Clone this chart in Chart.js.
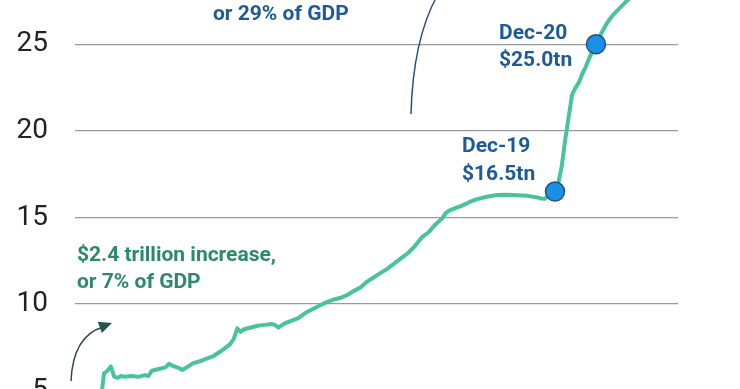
<!DOCTYPE html>
<html>
<head>
<meta charset="utf-8">
<script src="https://cdn.jsdelivr.net/npm/chart.js@4"></script>
<style>
  html, body { margin: 0; padding: 0; background: #fff; overflow: hidden; }
  #wrap { position: relative; width: 740px; height: 389px; overflow: hidden; }
  #chart { position: absolute; left: 0; top: -92px; }
</style>
</head>
<body>
<div id="wrap"><canvas id="chart" width="740" height="620"></canvas></div>
<script>
// Combined central bank assets, $ trillion
const months = [
    '2008-10', '2008-11', '2008-12', '2009-01', '2009-02', '2009-03', '2009-04', '2009-05', '2009-06',
    '2009-08', '2009-10', '2009-12', '2010-01', '2010-02', '2010-04', '2010-06', '2010-07', '2010-08',
    '2010-10', '2010-11', '2011-01', '2011-02', '2011-04', '2011-06', '2011-08', '2011-10', '2011-12',
    '2012-01', '2012-02', '2012-03', '2012-04', '2012-05', '2012-07', '2012-09', '2012-11', '2013-01',
    '2013-02', '2013-03', '2013-05', '2013-07', '2013-09', '2013-11', '2014-01', '2014-03', '2014-05',
    '2014-07', '2014-09', '2014-11', '2015-01', '2015-03', '2015-05', '2015-07', '2015-09', '2015-11',
    '2016-01', '2016-03', '2016-05', '2016-07', '2016-09', '2016-11', '2017-01', '2017-03', '2017-04',
    '2017-05', '2017-07', '2017-09', '2017-11', '2018-01', '2018-04', '2018-07', '2018-10', '2019-01',
    '2019-04', '2019-07', '2019-08', '2019-09', '2019-10', '2019-11', '2019-12', '2020-01', '2020-02',
    '2020-03', '2020-04', '2020-05', '2020-06', '2020-07', '2020-08', '2020-09', '2020-10', '2020-11',
    '2020-12', '2021-01', '2021-02', '2021-03', '2021-04', '2021-05', '2021-06', '2021-07', '2021-08',
    '2021-09', '2021-10', '2021-11', '2021-12',
];
const assetsTn = [
    3.6, 4.3, 6.0, 6.15, 6.4, 5.8, 5.75, 5.85, 5.8,
    5.85, 5.8, 5.9, 5.85, 6.15, 6.25, 6.35, 6.55, 6.45,
    6.3, 6.2, 6.45, 6.58, 6.7, 6.85, 7.0, 7.25, 7.55,
    7.7, 8.0, 8.6, 8.4, 8.55, 8.65, 8.75, 8.8, 8.85,
    8.8, 8.65, 8.9, 9.05, 9.2, 9.5, 9.7, 9.9, 10.1,
    10.25, 10.35, 10.5, 10.75, 10.95, 11.3, 11.55, 11.8, 12.05,
    12.35, 12.65, 12.95, 13.35, 13.85, 14.15, 14.6, 14.95, 15.25,
    15.4, 15.55, 15.7, 15.9, 16.05, 16.2, 16.3, 16.32, 16.28,
    16.25, 16.15, 16.1, 16.08, 16.25, 16.4, 16.5, 17.0, 18.0,
    19.5, 20.8, 22.1, 22.5, 22.8, 23.3, 23.7, 24.2, 24.6,
    25.0, 25.4, 25.8, 26.15, 26.45, 26.7, 26.9, 27.1, 27.3,
    27.5, 27.7, 27.85, 28.0,
];

const markerMonths = ['2019-12', '2020-12'];
const markerValues = [16.5, 25.0];
const markerLabels = [['Dec-19', '$16.5tn'], ['Dec-20', '$25.0tn']];

const yTickValues = [0, 5, 10, 15, 20, 25, 30];

const LINE_GREEN = '#47c49c';
const TEXT_GREEN = '#2c8a6c';
const TEXT_BLUE = '#1d5a99';
const PAGE_TOP = 92; // canvas sits 92px above the page

function toYear(m) {
    const [y, mo] = m.split('-').map(Number);
    return y + (mo - 1) / 12;
}

const linePoints = months.map((m, i) => ({ x: toYear(m), y: assetsTn[i] }));
const markerPoints = markerMonths.map((m, i) => ({ x: toYear(m), y: markerValues[i] }));

function arrowHead(ctx, fromX, fromY, tipX, tipY, len, half) {
    const a = Math.atan2(tipY - fromY, tipX - fromX);
    ctx.beginPath();
    ctx.moveTo(tipX, tipY);
    ctx.lineTo(tipX - len * Math.cos(a) + half * Math.sin(a), tipY - len * Math.sin(a) - half * Math.cos(a));
    ctx.lineTo(tipX - len * Math.cos(a) - half * Math.sin(a), tipY - len * Math.sin(a) + half * Math.cos(a));
    ctx.closePath();
    ctx.fill();
}

const annotations = {
    id: 'annotations',
    afterDraw(chart) {
        const ctx = chart.ctx;
        const xs = chart.scales.x;
        const ys = chart.scales.y;
        ctx.save();
        ctx.font = 'bold 21px Roboto';
        ctx.textAlign = 'left';
        ctx.textBaseline = 'alphabetic';

        // labels next to the two markers
        ctx.fillStyle = TEXT_BLUE;
        const offsets = [[-93, -40, -11.5], [-97, -5.5, 21.5]];
        markerPoints.forEach((p, i) => {
            const px = xs.getPixelForValue(p.x);
            const py = ys.getPixelForValue(p.y);
            const [dx, d1, d2] = offsets[i];
            ctx.fillText(markerLabels[i][0], px + dx, py + d1);
            ctx.fillText(markerLabels[i][1], px + dx, py + d2);
        });

        // page coordinates from here on
        ctx.translate(0, PAGE_TOP);

        ctx.fillText('or 29% of GDP', 213, 20);

        ctx.fillStyle = TEXT_GREEN;
        ctx.fillText('$2.4 trillion increase,', 77, 260.5);
        ctx.fillText('or 7% of GDP', 77, 287.5);

        // blue curve towards the top note
        ctx.strokeStyle = '#2b4c7e';
        ctx.lineWidth = 1.5;
        ctx.beginPath();
        ctx.moveTo(411, 114);
        ctx.quadraticCurveTo(413, 40, 437, -4);
        ctx.stroke();

        // small curved arrow under the green note
        ctx.strokeStyle = '#2a4a44';
        ctx.fillStyle = '#23574b';
        ctx.lineWidth = 1.5;
        ctx.beginPath();
        ctx.moveTo(71, 381);
        ctx.quadraticCurveTo(73, 336, 103, 327);
        ctx.stroke();
        arrowHead(ctx, 97, 328.5, 112, 323, 13, 6);

        ctx.restore();
    },
};

new Chart(document.getElementById('chart'), {
    type: 'line',
    data: {
        datasets: [
            {
                data: markerPoints,
                showLine: false,
                pointRadius: 9.5,
                pointBackgroundColor: '#1b8fe3',
                pointBorderColor: '#1f4f86',
                pointBorderWidth: 1.5,
                order: 0,
            },
            {
                data: linePoints,
                borderColor: LINE_GREEN,
                borderWidth: 4,
                pointRadius: 0,
                tension: 0,
                borderJoinStyle: 'round',
                borderCapStyle: 'round',
                order: 1,
            },
        ],
    },
    options: {
        responsive: false,
        devicePixelRatio: 1,
        animation: false,
        layout: { padding: { top: 49.7, bottom: 50.7, left: 0, right: 62 } },
        plugins: {
            legend: { display: false },
            tooltip: { enabled: false },
        },
        scales: {
            x: {
                type: 'linear',
                min: 2008.2094,
                max: 2022.9167,
                display: false,
            },
            y: {
                min: 0,
                max: 30,
                afterBuildTicks: (axis) => {
                    axis.ticks = yTickValues.map((v) => ({ value: v }));
                },
                afterFit: (axis) => {
                    axis.width = 75;
                },
                ticks: {
                    padding: 27,
                    color: '#222',
                    font: { family: 'Roboto', size: 28 },
                },
                grid: {
                    color: '#9a9a9a',
                    lineWidth: 1.3,
                    drawTicks: false,
                },
                border: { display: false },
            },
        },
    },
    plugins: [annotations],
});
</script>
</body>
</html>
